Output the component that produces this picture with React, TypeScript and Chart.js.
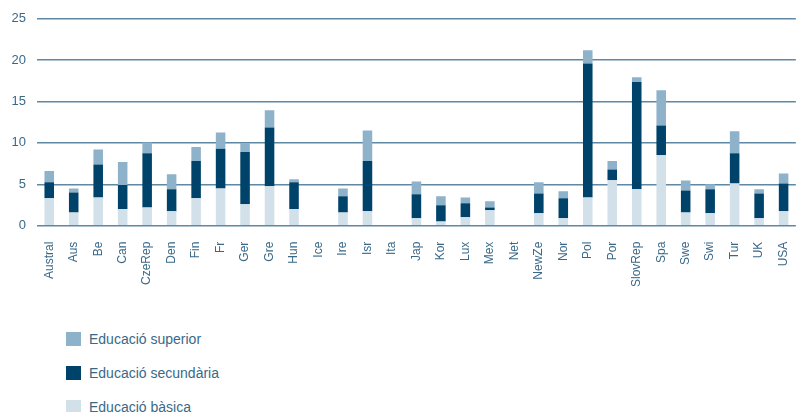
import React, { useEffect, useRef } from "react";
import { Chart, registerables } from "chart.js";

Chart.register(...registerables);

const categories = ["Austral","Aus","Be","Can","CzeRep","Den","Fin","Fr","Ger","Gre","Hun","Ice","Ire","Isr","Ita","Jap","Kor","Lux","Mex","Net","NewZe","Nor","Pol","Por","SlovRep","Spa","Swe","Swi","Tur","UK","USA"];

const basica = [3.3,1.6,3.4,2.0,2.2,1.75,3.3,4.5,2.6,4.75,2.0,0,1.6,1.75,0,0.9,0.5,1.0,1.85,0,1.5,0.9,3.4,5.5,4.4,8.5,1.6,1.5,5.1,0.9,1.75];
const secundaria = [1.95,2.4,4.0,2.9,6.55,2.65,4.5,4.8,6.3,7.1,3.25,0,1.95,6.05,0,2.9,1.95,1.7,0.35,0,2.4,2.4,16.2,1.3,12.95,3.6,2.65,2.9,3.65,3.0,3.35];
const superior = [1.35,0.5,1.8,2.8,1.3,1.8,1.7,1.95,1.1,2.1,0.35,0,0.95,3.7,0,1.55,1.1,0.7,0.75,0,1.35,0.85,1.6,1.0,0.6,4.25,1.2,0.6,2.65,0.5,1.2];

const yTicks = [0, 5, 10, 15, 20, 25];

const seriesNames = ["Educació superior", "Educació secundària", "Educació bàsica"];
const colors = { superior: "#8fb2cb", secundaria: "#00436a", basica: "#d2e0ea" };
const textColor = "#3a6988";
const font = "'Liberation Sans', Arial, Helvetica, sans-serif";

export default function App() {
  const ref = useRef<HTMLCanvasElement | null>(null);
  useEffect(() => {
    if (!ref.current) return;
    const chart = new Chart(ref.current, {
      type: "bar",
      data: {
        labels: categories,
        datasets: [
          { label: seriesNames[2], data: basica, backgroundColor: colors.basica, barPercentage: 0.39, categoryPercentage: 1 },
          { label: seriesNames[1], data: secundaria, backgroundColor: colors.secundaria, barPercentage: 0.39, categoryPercentage: 1 },
          { label: seriesNames[0], data: superior, backgroundColor: colors.superior, barPercentage: 0.39, categoryPercentage: 1 },
        ],
      },
      options: {
        responsive: false,
        animation: false,
        layout: { padding: { top: 12, bottom: 0, left: 0, right: 0 } },
        plugins: { legend: { display: false }, tooltip: { enabled: false } },
        scales: {
          x: {
            stacked: true,
            grid: { display: false },
            border: { display: false },
            ticks: {
              autoSkip: false,
              minRotation: 90,
              maxRotation: 90,
              padding: 8,
              color: textColor,
              font: { family: font, size: 12 },
            },
          },
          y: {
            stacked: true,
            min: 0,
            max: 25,
            afterBuildTicks: (s: any) => { s.ticks = yTicks.map((v) => ({ value: v })); },
            grid: { color: "#5e88a4", lineWidth: 1.4, drawTicks: false },
            border: { display: false },
            ticks: {
              padding: 11,
              color: textColor,
              font: { family: font, size: 13 },
            },
            afterFit: (s: any) => { s.width = 37; },
          },
        },
      },
    });
    return () => chart.destroy();
  }, []);

  const legendItems = [
    { name: seriesNames[0], color: colors.superior },
    { name: seriesNames[1], color: colors.secundaria },
    { name: seriesNames[2], color: colors.basica },
  ];

  return (
    <div style={{ position: "absolute", left: 0, top: 0, width: 800, height: 412, overflow: "hidden", background: "#fff" }}>
      <canvas ref={ref} width={806} height={295} style={{ position: "absolute", left: 0, top: 0 }} />
      {legendItems.map((it, i) => (
        <div key={it.name} style={{ position: "absolute", left: 66, top: 331 + i * 34, height: 15, display: "flex", alignItems: "center", fontFamily: font, fontSize: 14, color: textColor, whiteSpace: "nowrap" }}>
          <span style={{ display: "inline-block", width: 15, height: 14, background: it.color, marginRight: 8 }} />
          <span>{it.name}</span>
        </div>
      ))}
    </div>
  );
}
